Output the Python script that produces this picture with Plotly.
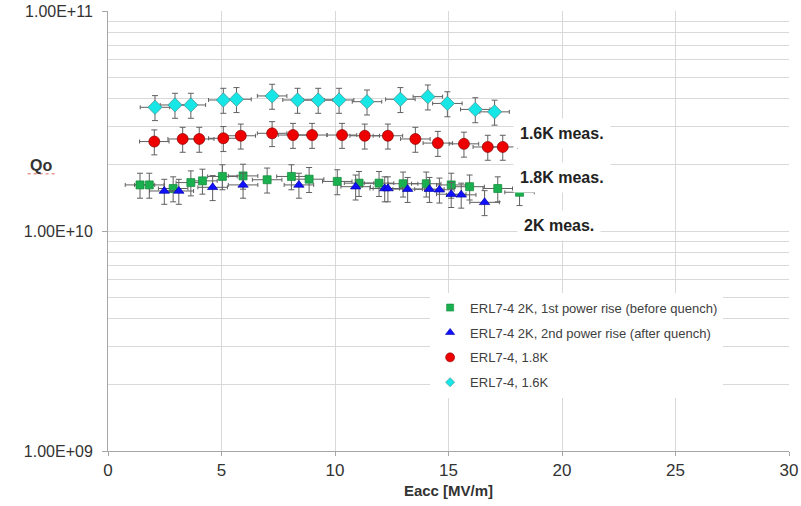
import plotly.graph_objects as go

# ---- data ----
eacc_2k_first = [1.41, 1.82, 2.87, 3.65, 4.16, 5.04, 5.95, 7.01, 8.08, 8.86, 10.10, 11.06, 11.94, 13.00, 14.02, 15.12, 15.93, 17.17, 18.13]
q0_2k_first = [1.62e10, 1.62e10, 1.56e10, 1.66e10, 1.69e10, 1.77e10, 1.78e10, 1.71e10, 1.77e10, 1.72e10, 1.68e10, 1.65e10, 1.65e10, 1.64e10, 1.64e10, 1.62e10, 1.59e10, 1.56e10, 1.50e10]

eacc_2k_second = [2.48, 3.12, 4.61, 5.95, 8.41, 10.91, 12.19, 12.33, 13.20, 14.16, 14.60, 15.12, 15.56, 16.59]
q0_2k_second = [1.52e10, 1.52e10, 1.58e10, 1.62e10, 1.62e10, 1.59e10, 1.56e10, 1.56e10, 1.55e10, 1.55e10, 1.54e10, 1.47e10, 1.46e10, 1.35e10]

eacc_18k = [2.04, 3.29, 4.02, 5.08, 5.85, 7.23, 8.15, 8.99, 10.31, 11.31, 12.33, 13.54, 14.53, 15.68, 16.73, 17.39]
q0_18k = [2.55e10, 2.62e10, 2.62e10, 2.64e10, 2.71e10, 2.78e10, 2.73e10, 2.73e10, 2.73e10, 2.71e10, 2.71e10, 2.62e10, 2.51e10, 2.49e10, 2.41e10, 2.41e10]

eacc_16k = [2.07, 2.95, 3.65, 5.08, 5.66, 7.23, 8.35, 9.26, 10.18, 11.41, 12.88, 14.09, 14.95, 16.18, 17.03]
q0_16k = [3.65e10, 3.74e10, 3.74e10, 3.94e10, 3.97e10, 4.11e10, 3.94e10, 3.94e10, 3.94e10, 3.87e10, 3.97e10, 4.08e10, 3.80e10, 3.57e10, 3.48e10]

eacc_err = 0.65      # MV/m
q0_err_pct = 13      # percent

series_names = [
    "ERL7-4 2K, 1st power rise (before quench)",
    "ERL7-4 2K, 2nd power rise (after quench)",
    "ERL7-4, 1.8K",
    "ERL7-4, 1.6K",
]

x_ticks = [0, 5, 10, 15, 20, 25, 30]
y_major = [1e9, 1e10, 1e11]
y_major_text = ["1.00E+09", "1.00E+10", "1.00E+11"]
y_minor = [m * d for d in (1e9, 1e10) for m in range(2, 10)]

fig = go.Figure()

colors = ["#1bb04f", "#1010ff", "#ee0000", "#16e6e6"]
edges = ["#118a3a", "#0000aa", "#8a0000", "#4a8a8a"]
symbols = ["square", "triangle-up", "circle", "diamond"]
sizes = [8, 9, 11, 11]
legend_sizes = [7, 8, 9, 7]
datasets = [
    (eacc_2k_first, q0_2k_first),
    (eacc_2k_second, q0_2k_second),
    (eacc_18k, q0_18k),
    (eacc_16k, q0_16k),
]

draw_order = [3, 2, 0, 1]
for i in draw_order:
    xs, ys = datasets[i]
    fig.add_trace(go.Scatter(
        x=xs, y=ys, mode="markers", name=series_names[i], showlegend=False,
        marker=dict(symbol=symbols[i], size=sizes[i], color=colors[i],
                    line=dict(color=edges[i], width=0.7)),
        error_x=dict(type="constant", value=eacc_err, color="#606060", thickness=1, width=2),
        error_y=dict(type="percent", value=q0_err_pct, color="#606060", thickness=1, width=3),
    ))

# legend entries (small symbols like the original)
for i in range(4):
    fig.add_trace(go.Scatter(
        x=[None], y=[None], mode="markers", name=series_names[i],
        legendgroup=str(i),
        marker=dict(symbol=symbols[i], size=legend_sizes[i], color=colors[i],
                    line=dict(color=edges[i], width=0.6)),
    ))

grid = "#d9d9d9"
fig.update_layout(
    width=801, height=506,
    margin=dict(l=108, r=12, t=11, b=55),
    paper_bgcolor="white", plot_bgcolor="white",
    font=dict(family="Liberation Sans, Arial, sans-serif", color="#333333"),
    showlegend=True,
    legend=dict(
        x=0.473, y=0.36, xanchor="left", yanchor="top",
        bgcolor="white", font=dict(size=13, color="#404040"),
        tracegroupgap=5, itemwidth=30,
    ),
    xaxis=dict(
        range=[0, 30], tickvals=x_ticks, ticktext=[str(v) for v in x_ticks],
        showgrid=True, gridcolor=grid, gridwidth=1.3,
        showline=True, linecolor="#a6a6a6", linewidth=1,
        ticks="outside", ticklen=4, tickcolor="#a6a6a6",
        tickfont=dict(size=17, color="#333333"),
        zeroline=False, automargin=False,
        title=dict(text="<b>Eacc [MV/m]</b>", font=dict(size=15, color="#333333"), standoff=6),
    ),
    yaxis=dict(
        type="log", range=[9, 11],
        tickvals=y_major, ticktext=y_major_text,
        showgrid=True, gridcolor=grid, gridwidth=1.3,
        showline=True, linecolor="#a6a6a6", linewidth=1,
        ticks="outside", ticklen=5, tickcolor="#a6a6a6",
        ticklabelstandoff=6,
        tickfont=dict(size=16, color="#333333"),
        minor=dict(tickvals=y_minor, showgrid=True, gridcolor=grid, gridwidth=1.3, ticks=""),
        zeroline=False, automargin=False,
    ),
)

# temperature labels with white boxes
labels = [("1.6K meas.", 20.0, 10.445), ("1.8K meas.", 20.0, 10.245), ("2K meas.", 19.85, 10.025)]
for text, xv, yv in labels:
    fig.add_annotation(
        x=xv, y=yv, xref="x", yref="y", text="<b>" + text + "</b>", showarrow=False,
        font=dict(size=16, color="#222222"), bgcolor="white", borderpad=6,
    )

# y-axis title
fig.add_annotation(
    x=-0.0985, y=0.65, xref="paper", yref="paper", xanchor="center", yanchor="middle",
    text="<b>Qo</b>", showarrow=False,
    font=dict(size=16, color="#333333"),
)
fig.add_shape(type="line", xref="paper", yref="paper", x0=-0.118, x1=-0.076, y0=0.63, y1=0.63,
              line=dict(color="#e06060", width=1, dash="dot"))

fig.write_html("out.html")
